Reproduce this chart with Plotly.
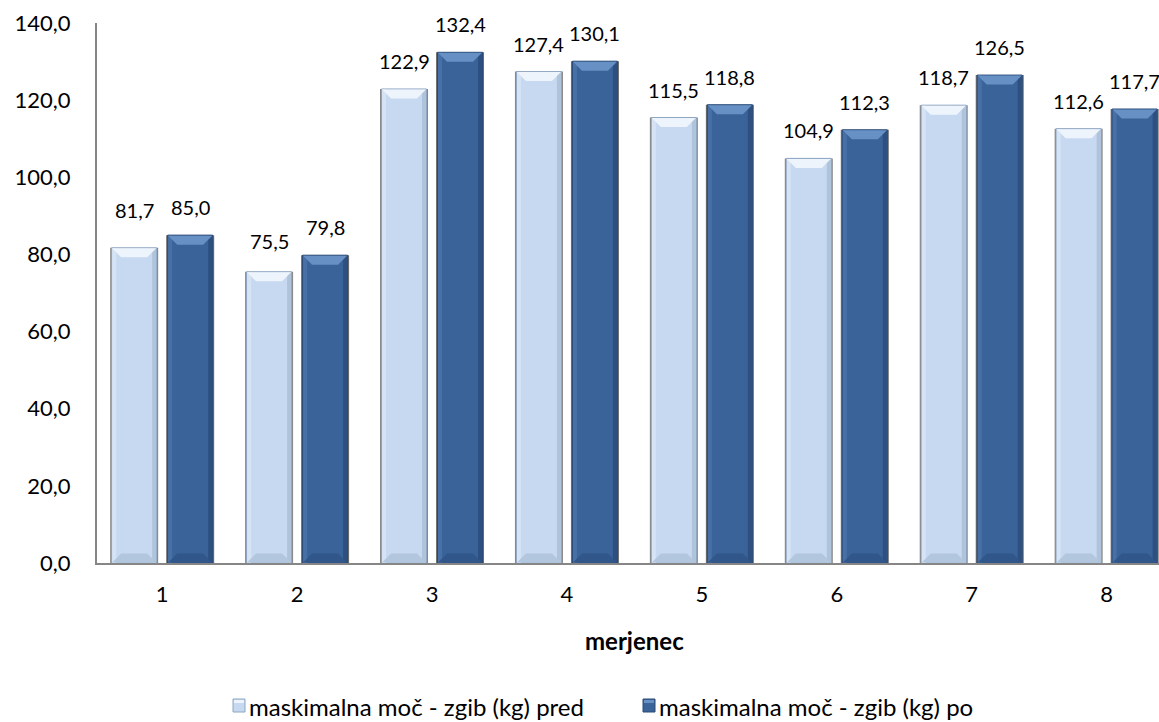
import plotly.graph_objects as go

# Measured subjects and their maximal pull-up strength before / after
merjenec = ["1", "2", "3", "4", "5", "6", "7", "8"]
pred = [81.7, 75.5, 122.9, 127.4, 115.5, 104.9, 118.7, 112.6]
po = [85.0, 79.8, 132.4, 130.1, 118.8, 112.3, 126.5, 117.7]
name_pred = "maskimalna moč - zgib (kg) pred"
name_po = "maskimalna moč - zgib (kg) po"
y_ticks = [0, 20, 40, 60, 80, 100, 120, 140]

FONT = "Lato"
W, H = 1159, 722
ML, MR, MT, MB = 97, 0, 23, 159
X_RANGE = [-0.483, 7.388]
Y_RANGE = [0, 140]

plot_w = W - ML - MR
plot_h = H - MT - MB
px_x = plot_w / (X_RANGE[1] - X_RANGE[0])   # pixels per category
px_y = plot_h / (Y_RANGE[1] - Y_RANGE[0])   # pixels per kg

BAR_W = 45 / px_x
OFF_PRED = -50.5 / px_x
OFF_PO = 5.5 / px_x

xs = list(range(len(merjenec)))

styles = {
    "pred": dict(body="#C6D9F1", top="#EEF4FB", bottom="#B2C6DE", edge="#8FA6C2",
                 left="#D5E3F4", right="#AFC3DB", shadow="rgba(95,95,95,0.75)"),
    "po": dict(body="#3A6399", top="#6790C4", bottom="#31568A", edge="#2A4A76",
               left="#4670A6", right="#2E5080", shadow="rgba(60,60,60,0.75)"),
}


def px_to_paper_x(px):
    return (px - ML) / plot_w


def px_to_paper_y(py):
    return (H - MB - py) / plot_h


fig = go.Figure()

# soft grey shadow behind each bar
for vals, off, key in [(pred, OFF_PRED, "pred"), (po, OFF_PO, "po")]:
    fig.add_trace(go.Bar(
        x=xs, y=vals, base=0,
        offset=off - 1.5 / px_x, width=BAR_W + 3.0 / px_x,
        marker=dict(color=styles[key]["shadow"], line=dict(width=0)),
        showlegend=False, hoverinfo="skip",
    ))

# main bars
for vals, off, key, nm in [(pred, OFF_PRED, "pred", name_pred), (po, OFF_PO, "po", name_po)]:
    fig.add_trace(go.Bar(
        x=xs, y=vals, offset=off, width=BAR_W, name=nm, showlegend=False,
        marker=dict(color=styles[key]["body"], line=dict(color=styles[key]["edge"], width=1)),
    ))

# bevel facets on every bar (top, bottom, sides)
shapes = []
bev_x = 9 / px_x
bev_y = 9 / px_y
side_x = 4 / px_x
for vals, off, key in [(pred, OFF_PRED, "pred"), (po, OFF_PO, "po")]:
    st = styles[key]
    for i, v in zip(xs, vals):
        x0 = i + off + 0.5 / px_x
        x1 = i + off + BAR_W - 0.5 / px_x
        top = v - 0.5 / px_y
        shapes.append(dict(type="rect", xref="x", yref="y", x0=x0, x1=x0 + side_x,
                           y0=0, y1=top, fillcolor=st["left"], line=dict(width=0), layer="above"))
        shapes.append(dict(type="rect", xref="x", yref="y", x0=x1 - side_x, x1=x1,
                           y0=0, y1=top, fillcolor=st["right"], line=dict(width=0), layer="above"))
        shapes.append(dict(
            type="path", xref="x", yref="y", layer="above",
            path=f"M {x0},{top} L {x1},{top} L {x1 - bev_x},{top - bev_y} L {x0 + bev_x},{top - bev_y} Z",
            fillcolor=st["top"], line=dict(width=0)))
        b = 0.5 / px_y
        shapes.append(dict(
            type="path", xref="x", yref="y", layer="above",
            path=f"M {x0},{b} L {x1},{b} L {x1 - bev_x},{b + bev_y} L {x0 + bev_x},{b + bev_y} Z",
            fillcolor=st["bottom"], line=dict(width=0)))

# value labels above bars (a couple of labels sit a little higher)
label_lift = {("pred", 0): 10, ("pred", 1): 3}
annotations = []
for vals, off, key in [(pred, OFF_PRED, "pred"), (po, OFF_PO, "po")]:
    for i, v in zip(xs, vals):
        annotations.append(dict(
            x=i + off + BAR_W / 2, y=v, xref="x", yref="y",
            text=f"{v:.1f}".replace(".", ","), showarrow=False,
            yanchor="bottom", yshift=14 + label_lift.get((key, i), 0),
            font=dict(family=FONT, size=20, color="#000000"),
        ))

# axis title
annotations.append(dict(
    x=px_to_paper_x(634), y=px_to_paper_y(640), xref="paper", yref="paper",
    text="<b>merjenec</b>", showarrow=False, yanchor="middle", xanchor="center",
    font=dict(family=FONT, size=24, color="#000000"),
))

# legend: small bevelled squares followed by series names
LEG_Y = 706
LEG_FONT = 24
legend_items = [
    (name_pred, "pred", 233, 247),
    (name_po, "po", 643, 657),
]
for nm, key, sym_x, txt_x in legend_items:
    st = styles[key]
    shapes.append(dict(
        type="rect", xref="paper", yref="paper",
        x0=px_to_paper_x(sym_x), x1=px_to_paper_x(sym_x + 12),
        y0=px_to_paper_y(LEG_Y + 6), y1=px_to_paper_y(LEG_Y - 7),
        fillcolor=st["body"], line=dict(color=st["edge"], width=1)))
    shapes.append(dict(
        type="rect", xref="paper", yref="paper",
        x0=px_to_paper_x(sym_x + 1), x1=px_to_paper_x(sym_x + 11),
        y0=px_to_paper_y(LEG_Y - 3), y1=px_to_paper_y(LEG_Y - 6),
        fillcolor=st["top"], line=dict(width=0)))
    annotations.append(dict(
        x=px_to_paper_x(txt_x), y=px_to_paper_y(LEG_Y), xref="paper", yref="paper",
        text=nm, showarrow=False, xanchor="left", yanchor="middle",
        font=dict(family=FONT, size=LEG_FONT, color="#000000"),
    ))

fig.update_layout(
    width=W, height=H,
    margin=dict(l=ML, r=MR, t=MT, b=MB),
    paper_bgcolor="white", plot_bgcolor="white",
    separators=",.",
    barmode="overlay",
    font=dict(family=FONT, size=21, color="#000000"),
    shapes=shapes,
    annotations=annotations,
    showlegend=False,
)

fig.update_xaxes(
    range=X_RANGE, tickmode="array", tickvals=xs, ticktext=merjenec,
    showline=True, linecolor="#868686", linewidth=2, showgrid=False, zeroline=False,
    ticks="", ticklabelstandoff=11, tickfont=dict(family=FONT, size=22),
)
fig.update_yaxes(
    range=Y_RANGE, tickmode="array", tickvals=y_ticks, tickformat=".1f",
    showline=True, linecolor="#868686", linewidth=2, showgrid=False, zeroline=False,
    ticks="", ticklabelstandoff=20, tickfont=dict(family=FONT, size=22),
)

fig.write_html("out.html")
